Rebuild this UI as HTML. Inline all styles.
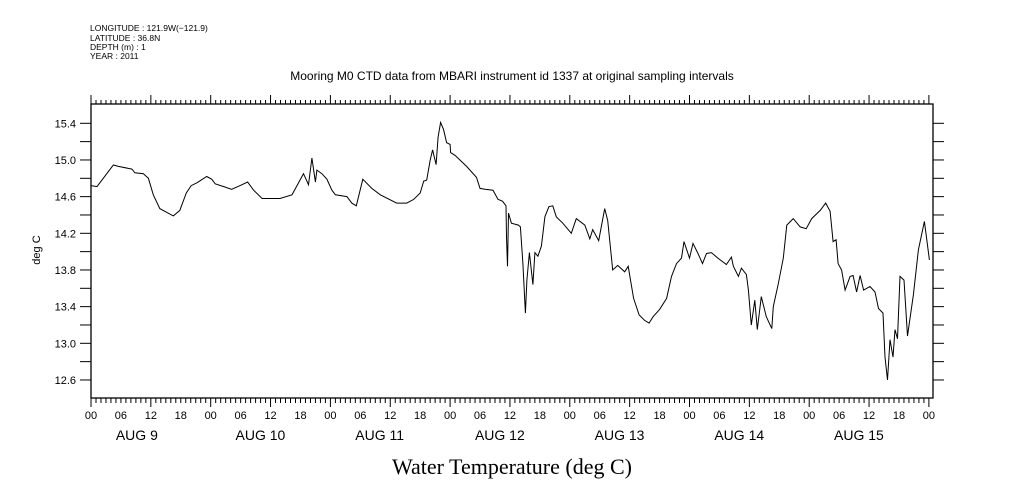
<!DOCTYPE html>
<html><head><meta charset="utf-8"><style>
body{margin:0;background:#fff;}
svg{display:block;font-family:"Liberation Sans",sans-serif;}
</style></head><body>
<svg id="chart" width="1009" height="504" viewBox="0 0 1009 504">
<rect width="1009" height="504" fill="#fff"/>
<g font-size="8.5" fill="#000">
<text x="90" y="31">LONGITUDE : 121.9W(−121.9)</text>
<text x="90" y="41">LATITUDE : 36.8N</text>
<text x="90" y="50">DEPTH (m) : 1</text>
<text x="90" y="59">YEAR : 2011</text>
</g>
<text x="512" y="80" text-anchor="middle" font-size="12">Mooring M0 CTD data from MBARI instrument id 1337 at original sampling intervals</text>
<text x="40" y="250" transform="rotate(-90 40 250)" text-anchor="middle" font-size="11">deg C</text>
<text x="512" y="474" text-anchor="middle" font-size="22" font-family="Liberation Serif, serif">Water Temperature (deg C)</text>
<g id="axes"></g>
<rect x="91" y="104" width="842" height="294" fill="none" stroke="#000" stroke-width="1.3"/>
<path id="series" fill="none" stroke="#000" stroke-width="1"/>
</svg>
<script>
const hours=[0,1.2,4.5,5.5,8.2,8.8,10.5,11.5,12.5,13.8,14.8,16.5,17.8,19.1,20.1,21.2,23.2,24.2,24.9,26.6,28.2,29.9,31.4,32.6,34.3,37.9,40.3,41.3,42.6,43.6,44.3,45.0,45.3,46.3,47.3,48.3,49.0,51.3,52.3,53.2,54.5,56.3,58.0,61.3,63.3,64.7,66.0,66.7,67.3,68.0,68.5,69.2,69.6,70.1,70.7,71.3,72.0,72.1,73.0,75.3,77.3,78.0,79.0,80.6,81.6,82.5,83.2,83.3,83.5,83.7,84.3,85.7,86.1,86.6,87.1,87.4,87.9,88.6,89.0,89.6,90.3,91.0,91.8,92.6,93.3,94.6,96.3,97.3,99.0,100.0,100.6,101.8,103.0,103.6,104.6,105.6,107.0,107.7,108.8,109.9,111.0,111.9,112.7,114.0,115.4,116.4,117.4,118.4,118.9,120.0,120.7,121.7,122.6,123.4,124.4,125.7,127.4,128.4,128.8,129.8,130.4,131.4,131.8,132.4,133.1,133.6,134.4,135.4,136.5,136.8,137.8,138.8,139.5,140.8,142.2,143.4,144.5,146.2,147.3,148.2,148.8,149.4,149.8,150.5,151.2,152.2,152.8,153.5,154.2,154.9,156.2,157.2,157.9,158.8,159.2,159.7,160.2,160.8,161.2,161.7,162.2,163.0,163.7,164.9,165.9,167.1,167.6,168.1];
const temps=[14.72,14.71,14.945,14.93,14.90,14.86,14.85,14.80,14.62,14.47,14.44,14.39,14.45,14.64,14.72,14.75,14.82,14.79,14.74,14.71,14.68,14.72,14.76,14.67,14.58,14.58,14.62,14.72,14.85,14.73,15.02,14.76,14.89,14.85,14.79,14.67,14.62,14.60,14.53,14.50,14.79,14.69,14.62,14.53,14.53,14.57,14.64,14.77,14.78,15.00,15.11,14.95,15.25,15.41,15.33,15.19,15.17,15.08,15.05,14.93,14.81,14.69,14.68,14.67,14.57,14.55,14.50,14.16,13.84,14.42,14.31,14.29,14.27,13.87,13.33,13.69,13.99,13.64,13.99,13.95,14.06,14.38,14.49,14.50,14.38,14.31,14.20,14.36,14.29,14.14,14.24,14.12,14.47,14.34,13.80,13.85,13.78,13.84,13.49,13.31,13.25,13.22,13.29,13.37,13.49,13.73,13.87,13.93,14.11,13.93,14.09,13.98,13.87,13.98,13.99,13.93,13.86,13.94,13.84,13.73,13.82,13.75,13.58,13.20,13.47,13.15,13.51,13.29,13.16,13.40,13.65,13.93,14.29,14.36,14.27,14.25,14.36,14.45,14.53,14.44,14.11,14.13,13.87,13.80,13.58,13.73,13.74,13.56,13.74,13.58,13.62,13.56,13.38,13.33,12.85,12.60,13.04,12.85,13.15,13.05,13.73,13.69,13.08,13.53,14.02,14.33,14.12,13.91];
const yTicks=[12.6,12.8,13.0,13.2,13.4,13.6,13.8,14.0,14.2,14.4,14.6,14.8,15.0,15.2,15.4];
const yLabels=["12.6","13.0","13.4","13.8","14.2","14.6","15.0","15.4"];
const hourLabels=["00","06","12","18"];
const dayLabels=["AUG  9","AUG 10","AUG 11","AUG 12","AUG 13","AUG 14","AUG 15"];
const NS="http://www.w3.org/2000/svg";
const X=h=>91+h*119.7/24;
const Y=v=>123.3+(15.4-v)*91.67;
const ax=document.getElementById('axes');
function mk(tag,attrs,txt){const e=document.createElementNS(NS,tag);for(const k in attrs)e.setAttribute(k,attrs[k]);if(txt!==undefined)e.textContent=txt;ax.appendChild(e);return e;}
for(let h=0;h<=168;h++){
  const x=X(h);const major=h%12===0;
  const t1=mk('line',{x1:x,x2:x,y1:104,y2:major?95:100,stroke:'#000'});
  
  
  const t2=mk('line',{x1:x,x2:x,y1:398,y2:major?407:403,stroke:'#000'});
  
  
  if(h%6===0){
    const l=mk('text',{x:x,y:419,'text-anchor':'middle','font-size':'11'},hourLabels[(h/6)%4]);
    
    
  }
  if(h%24===12&&h<168){
    const d=mk('text',{x:x-37+2,y:440,'font-size':'14','xml:space':'preserve'},dayLabels[(h-12)/24]);
    
    
  }
}
yTicks.forEach((v,i)=>{
  const y=Y(v);
  const a=mk('line',{x1:80,x2:91,y1:y,y2:y,stroke:'#000'});
  
  
  const b=mk('line',{x1:933,x2:944,y1:y,y2:y,stroke:'#000'});
  
  
  if(i%2===0){
    const l=mk('text',{x:76,y:y+4,'text-anchor':'end','font-size':'11'},yLabels[i/2]);
    
    
  }
});
let d='';
hours.forEach((h,i)=>{d+=(i?'L':'M')+X(h).toFixed(1)+' '+Y(temps[i]).toFixed(1);});
document.getElementById('series').setAttribute('d',d);
</script>
</body></html>
